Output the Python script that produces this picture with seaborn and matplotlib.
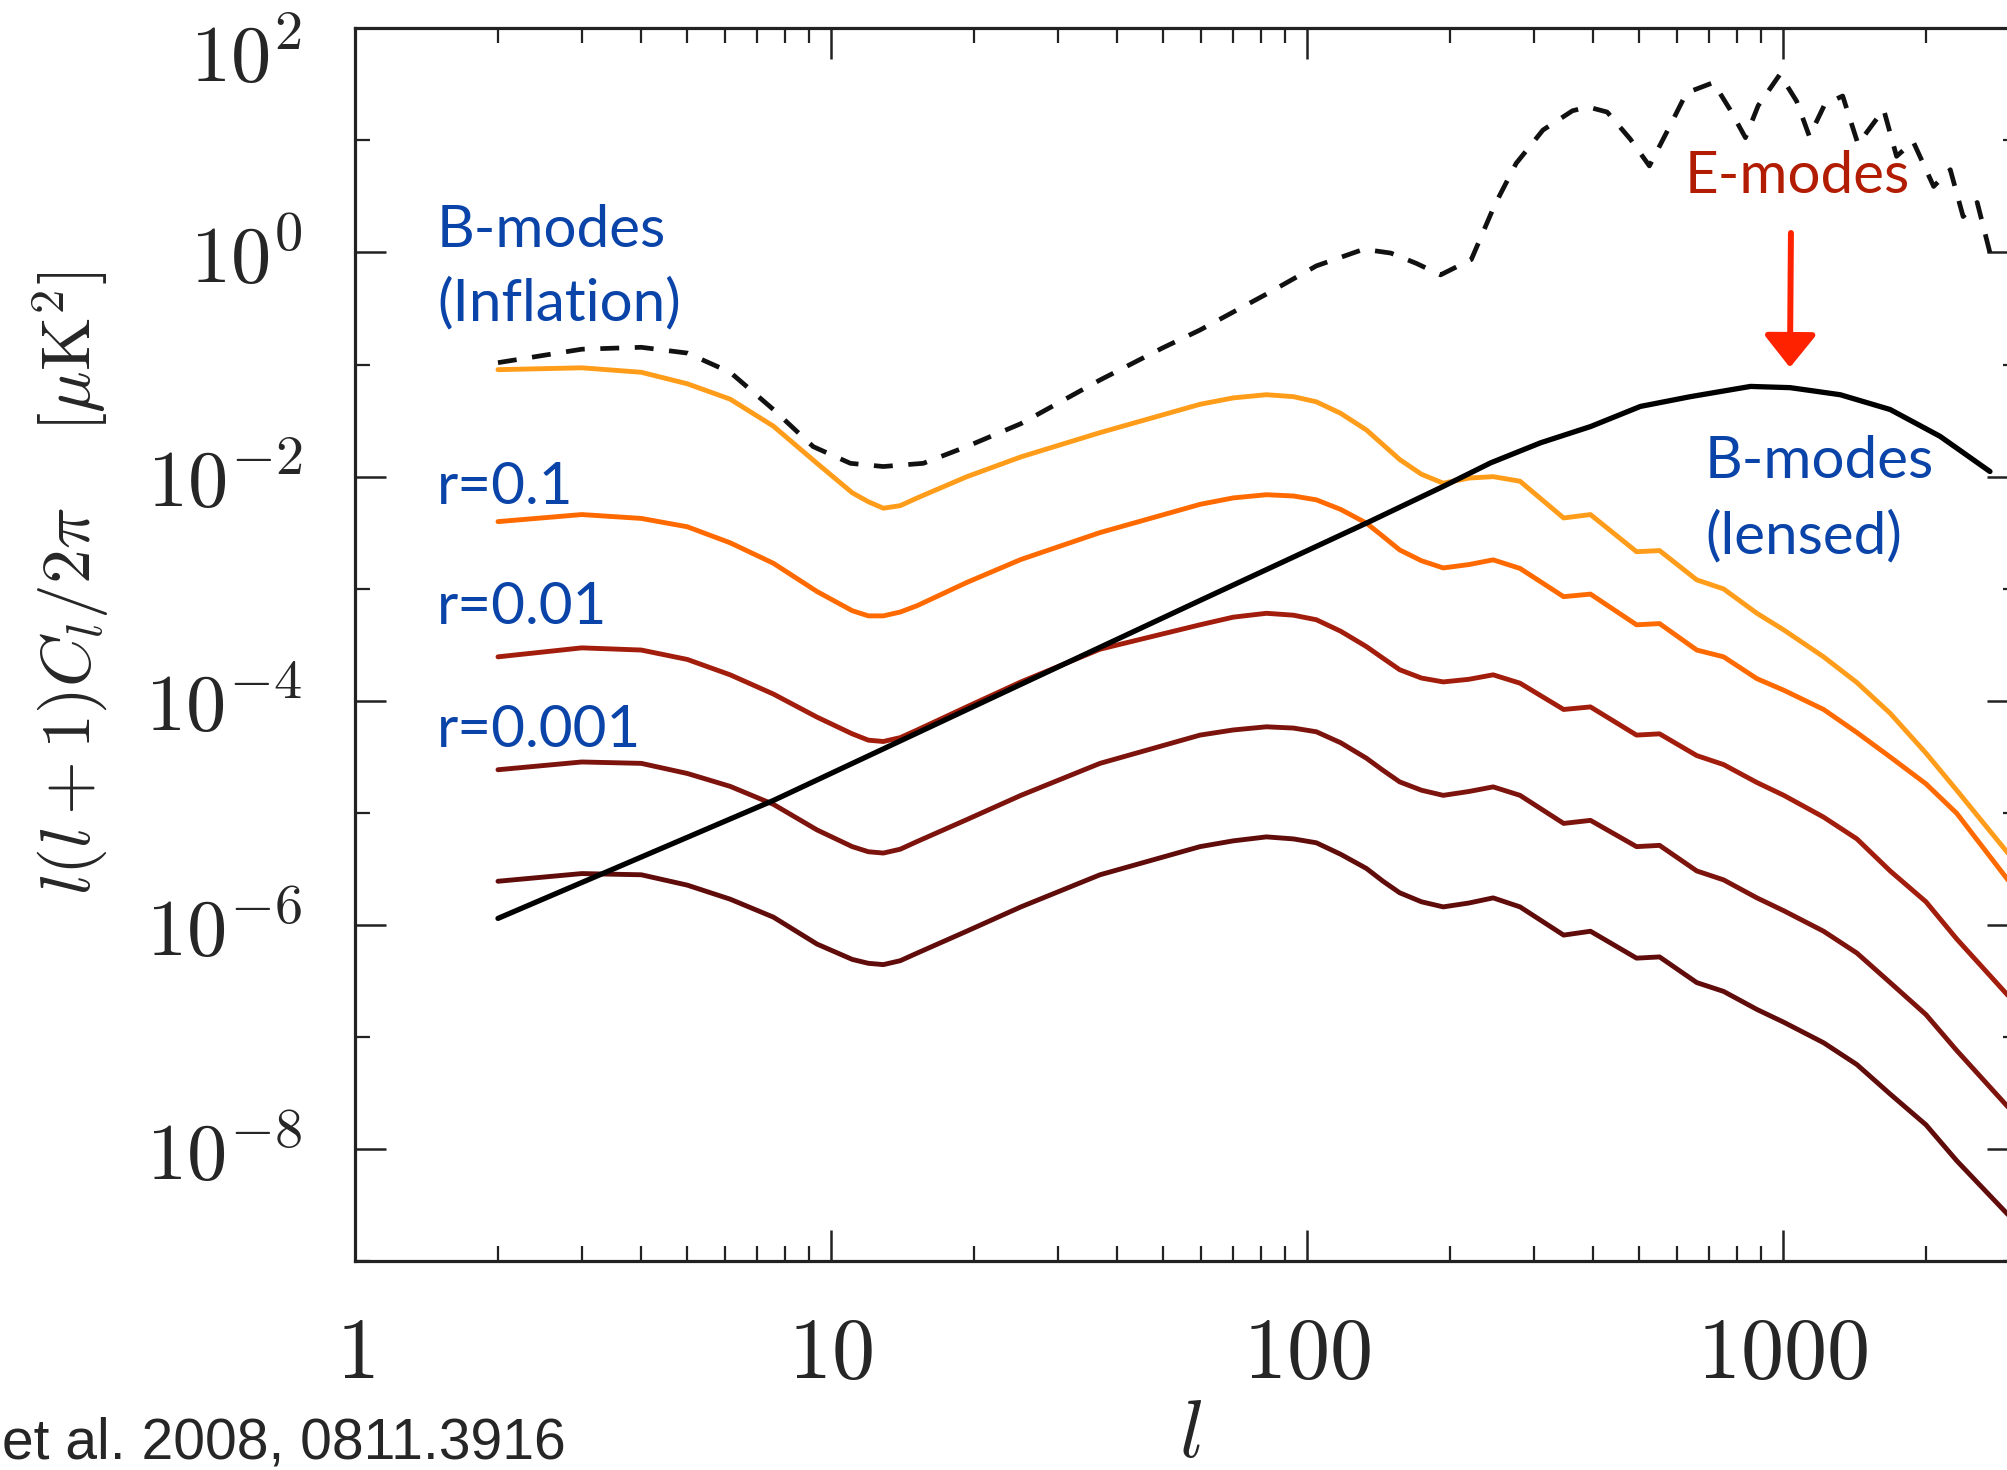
import seaborn as sns
import pandas as pd
import matplotlib.pyplot as plt
import numpy as np
from matplotlib.ticker import FixedLocator, FixedFormatter, NullFormatter
from matplotlib.transforms import ScaledTranslation, blended_transform_factory

# multipoles shared by the tensor B-mode curves
l_bb = [2, 3, 4, 5, 6.15, 7.58, 9.36, 11.1, 12.0, 12.9, 14.0, 15.2, 19.3, 25.1, 36.8, 59.7,
        70.1, 82.3, 93.8, 104.8, 117.9, 133.5, 144.7, 156.8, 174.2, 193.6, 219.1, 246.5,
        280.7, 346.6, 394.7, 493.2, 551.3, 660, 751.6, 883, 1005.6, 1219, 1432, 1682, 2000,
        2321, 2973]

# tensor B-modes (inflation), one list per r, in uK^2
bb_top = [0.090, 0.0935, 0.0853, 0.0673, 0.0491, 0.0282, 0.01315, 0.00718, 0.00597, 0.00523,
          0.00551, 0.00646, 0.00997, 0.0150, 0.0247, 0.0442, 0.0504, 0.0538, 0.0517, 0.0465,
          0.0367, 0.0261, 0.01926, 0.01423, 0.01051, 0.00874, 0.00971, 0.0100,
          0.00910, 0.00428, 0.00459, 0.00214, 0.00219, 0.00120, 0.000996, 0.000604, 0.000429,
          0.000247, 0.0001457, 7.75e-5, 3.42e-5, 1.596e-5, 4.39e-6]
bb_r01 = [0.00397, 0.00459, 0.00424, 0.00357, 0.00257, 0.001687, 0.000945, 0.000637, 5.73e-4,
          5.73e-4, 6.20e-4, 0.000707, 0.001136, 0.001825, 0.00317, 0.00566, 0.00646, 0.00690,
          0.00672, 0.00621, 0.00510, 0.00385, 0.00293, 0.00222, 0.001778, 0.001534, 0.001643,
          0.001811, 0.001518, 0.000850, 0.000896, 0.000477, 0.000489, 0.000284,
          0.000247, 0.0001577, 0.0001244, 8.38e-5, 5.22e-5, 3.16e-5, 1.82e-5, 9.93e-6, 2.53e-6]
bb_r001 = [2.47e-4, 2.97e-4, 2.84e-4, 2.34e-4, 1.707e-4, 1.150e-4, 7.16e-5, 5.08e-5, 4.46e-5,
           4.34e-5, 4.70e-5, 5.50e-5, 8.83e-5, 1.476e-4, 2.89e-4, 4.77e-4, 5.58e-4, 6.04e-4,
           5.81e-4, 5.29e-4, 4.18e-4, 3.05e-4, 2.40e-4, 1.896e-4, 1.598e-4, 1.476e-4, 1.557e-4,
           1.707e-4, 1.438e-4, 8.38e-5, 8.83e-5, 4.95e-5, 5.08e-5, 3.25e-5, 2.70e-5,
           1.869e-5, 1.436e-5, 9.18e-6, 5.87e-6, 3.04e-6, 1.614e-6, 7.52e-7, 2.36e-7]
bb_r0001 = [2.43e-5, 2.85e-5, 2.77e-5, 2.25e-5, 1.727e-5, 1.194e-5, 7.06e-6, 5.01e-6, 4.51e-6,
            4.39e-6, 4.75e-6, 5.57e-6, 8.71e-6, 1.436e-5, 2.77e-5, 4.95e-5, 5.50e-5, 5.87e-5,
            5.72e-5, 5.30e-5, 4.23e-5, 3.08e-5, 2.40e-5, 1.894e-5, 1.596e-5, 1.436e-5, 1.554e-5,
            1.709e-5, 1.436e-5, 8.07e-6, 8.59e-6, 5.01e-6, 5.14e-6, 3.04e-6, 2.53e-6,
            1.748e-6, 1.342e-6, 8.81e-7, 5.63e-7, 3.07e-7, 1.591e-7, 7.61e-8, 2.39e-8]
bb_r00001 = [2.46e-6, 2.88e-6, 2.81e-6, 2.27e-6, 1.702e-6, 1.177e-6, 6.77e-7, 4.94e-7, 4.56e-7,
             4.44e-7, 4.81e-7, 5.63e-7, 8.81e-7, 1.453e-6, 2.81e-6, 5.01e-6, 5.64e-6, 6.12e-6,
             5.87e-6, 5.42e-6, 4.28e-6, 3.20e-6, 2.46e-6, 1.942e-6, 1.614e-6, 1.453e-6, 1.573e-6,
             1.748e-6, 1.453e-6, 8.14e-7, 8.81e-7, 5.07e-7, 5.20e-7, 3.07e-7, 2.56e-7,
             1.768e-7, 1.359e-7, 8.92e-8, 5.70e-8, 3.11e-8, 1.654e-8, 7.91e-9, 2.62e-9]
bb_colors = ["#ff9d1a", "#ff6a00", "#a21d0c", "#7c130c", "#5f0c0a"]

# lensed B-modes
l_lens = [2, 7.58, 22.7, 59.7, 133.5, 193.6, 243.4, 310, 395, 502.5, 640, 856, 1037, 1321,
          1682, 2141, 2726]
bb_lens = [1.147e-6, 1.293e-5, 1.150e-4, 7.86e-4, 3.85e-3, 8.18e-3, 0.01326, 0.02004, 0.0280,
           0.0423, 0.0517, 0.0638, 0.0622, 0.0538, 0.0397, 0.0229, 0.01111]

# E-modes
l_ee = [2, 3, 4, 5, 6.15, 7.58, 9.19, 11.0, 12.9, 15.65, 19.3, 25.1, 36.8, 49.8, 59.7, 82.3,
        104.8, 131.8, 150.2, 169.9, 191.1, 221.8, 248, 275.5, 313.7, 361.8, 389.8, 427.9, 478.3,
        524.8, 579.4, 628.1, 715.2, 775.1, 835.2, 888.4, 986.9, 1069.8, 1138.1, 1226, 1337,
        1440, 1630, 1735, 1880, 2076, 2250, 2394, 2563, 2727]
ee = [0.1039, 0.1370, 0.1425, 0.1265, 0.0853, 0.0397, 0.01852, 0.01315, 0.01231, 0.01315,
      0.01852, 0.0297, 0.0728, 0.1406, 0.2033, 0.4249, 0.7585, 1.068, 0.987, 0.7994, 0.6307,
      0.8652, 2.615, 6.233, 12.36, 18.35, 19.86, 17.87, 10.28, 5.914, 13.38, 26.53, 32.74,
      18.84, 10.56, 20.39, 38.75, 22.36, 10.84, 20.94, 24.85, 9.25, 18.84, 7.20, 9.75, 3.88,
      5.47, 2.09, 2.79, 0.987]

x_ticks = [1, 10, 100, 1000]
y_ticks = [1e-8, 1e-6, 1e-4, 1e-2, 1, 1e2]
y_tick_labels = [r"$\mathrm{10^{-8}}$", r"$\mathrm{10^{-6}}$", r"$\mathrm{10^{-4}}$",
                 r"$\mathrm{10^{-2}}$", r"$\mathrm{10^{0}}$", r"$\mathrm{10^{2}}$"]

sns.set_style("ticks")
plt.rcParams['mathtext.fontset'] = 'cm'
plt.rcParams['font.family'] = ['DejaVu Serif']

fig = plt.figure(figsize=(20.08, 14.70), dpi=100)
ax = fig.add_axes([0.17664, 0.14190, 0.82834, 0.83891])
ax.set_xscale('log')
ax.set_yscale('log')

for vals, col in zip([bb_top, bb_r01, bb_r001, bb_r0001, bb_r00001], bb_colors):
    sns.lineplot(x=l_bb, y=vals, ax=ax, color=col, lw=3.5, estimator=None, sort=False)
sns.lineplot(x=l_lens, y=bb_lens, ax=ax, color='black', lw=3.8, estimator=None, sort=False)
sns.lineplot(x=l_ee, y=ee, ax=ax, color='#111111', lw=3.4, estimator=None, sort=False,
             linestyle=(0, (4, 3.3)))

ax.set_xlim(1, 3122)
ax.set_ylim(1e-9, 1e2)

# axis ticks, IDL style: inward on all four sides
ax.xaxis.set_major_locator(FixedLocator(x_ticks))
ax.xaxis.set_major_formatter(FixedFormatter([r"$\mathrm{%d}$" % t for t in x_ticks]))
ax.xaxis.set_minor_locator(FixedLocator([m * d for d in [1, 10, 100, 1000] for m in range(2, 10)]))
ax.xaxis.set_minor_formatter(NullFormatter())
ax.yaxis.set_major_locator(FixedLocator(y_ticks))
# top label is drawn by hand a bit lower, like in the original
ax.yaxis.set_major_formatter(FixedFormatter(y_tick_labels[:-1] + [""]))
ax.yaxis.set_minor_locator(FixedLocator([1e-9, 1e-7, 1e-5, 1e-3, 1e-1, 1e1]))
ax.yaxis.set_minor_formatter(NullFormatter())
ax.tick_params(which='both', direction='in', top=True, right=True, color='#222222')
ax.tick_params(which='major', length=22, width=1.8, labelsize=58)
ax.tick_params(which='minor', length=11, width=1.6)
ax.tick_params(axis='x', which='major', pad=37, labelsize=62)
ax.tick_params(axis='y', which='major', pad=38)
for sp in ax.spines.values():
    sp.set_linewidth(2.3)
    sp.set_color('#222222')
ax.set_xlabel('')
ax.set_ylabel('')

trans = blended_transform_factory(ax.transAxes, ax.transData) + \
    ScaledTranslation(-38 / 72, -0.23, fig.dpi_scale_trans)
ax.text(0, y_ticks[-1], y_tick_labels[-1], transform=trans, ha='right',
        va='center_baseline', fontsize=58, clip_on=False)

fig.text(0.0354, 0.6034, r"$l(l+1)C_l/2\pi\quad\;[\mu\mathrm{K}^2]$", rotation=90,
         ha='center', va='center', fontsize=50)
fig.text(0.593, 0.009, r"$l$", ha='center', va='baseline', fontsize=58)

blue = "#0a44a8"
lato = ['Lato', 'DejaVu Sans']
fig.text(0.2176, 0.8320, "B-modes", color=blue, fontsize=42, family=lato)
fig.text(0.2176, 0.7823, "(Inflation)", color=blue, fontsize=42, family=lato)
fig.text(0.2176, 0.6571, "r=0.1", color=blue, fontsize=42, family=lato)
fig.text(0.2176, 0.5755, "r=0.01", color=blue, fontsize=42, family=lato)
fig.text(0.2176, 0.4918, "r=0.001", color=blue, fontsize=42, family=lato)
fig.text(0.8491, 0.6748, "B-modes", color=blue, fontsize=42, family=lato)
fig.text(0.8491, 0.6238, "(lensed)", color=blue, fontsize=42, family=lato)
fig.text(0.8391, 0.8687, "E-modes", color="#b21c02", fontsize=42, family=lato)

ax.annotate('', xy=(0.8914, 0.7500), xytext=(0.8919, 0.8415),
            xycoords='figure fraction', textcoords='figure fraction',
            arrowprops=dict(arrowstyle='-|>,head_length=0.25,head_width=0.2',
                            mutation_scale=80, lw=4.3, color='#ff2200',
                            shrinkA=0, shrinkB=0))

fig.text(0.001, 0.0075, "et al. 2008, 0811.3916", fontsize=41,
         family=['Liberation Sans', 'DejaVu Sans'], va='baseline')

plt.savefig('out.png', dpi=100)
